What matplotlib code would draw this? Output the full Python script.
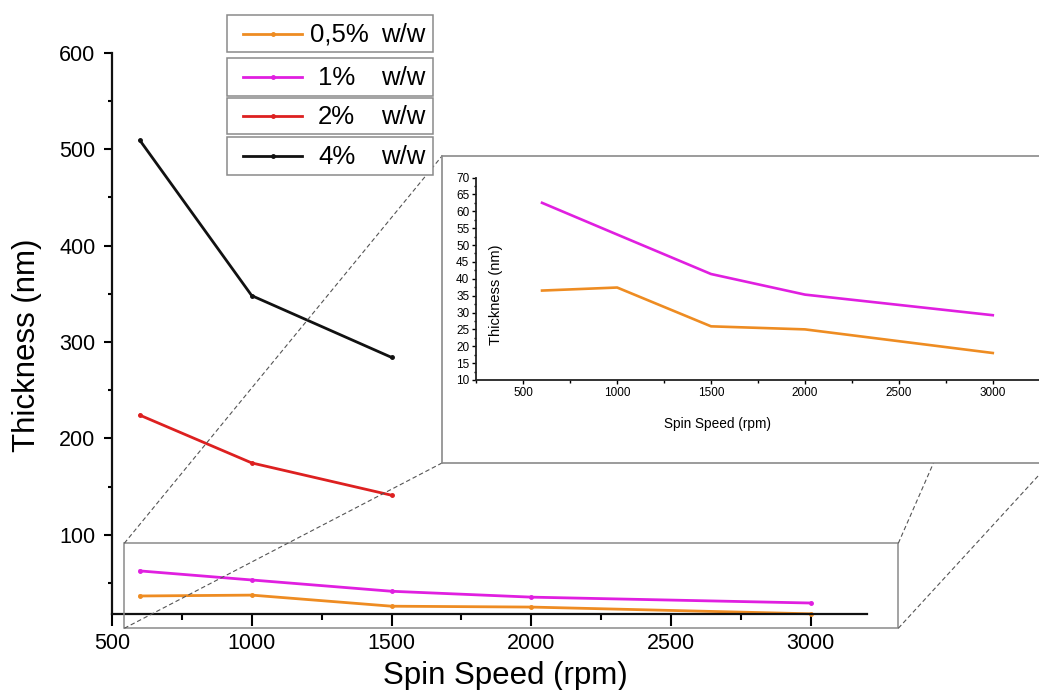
import matplotlib
matplotlib.use("Agg")
import matplotlib.pyplot as plt
from matplotlib.patches import Rectangle
from matplotlib.lines import Line2D
from matplotlib.ticker import MultipleLocator

plt.rcParams['font.family'] = ['Liberation Sans', 'DejaVu Sans']

# ---- data ----
speed_full = [600, 1000, 1500, 2000, 3000]
speed_short = [600, 1000, 1500]
thick_05 = [36.5, 37.4, 25.9, 25.0, 18.0]
thick_1 = [62.5, 53.1, 41.4, 35.3, 29.2]
thick_2 = [224, 174.5, 141]
thick_4 = [509, 348, 284]
legend_pct = ["0,5%", "1%", "2%", "4%"]
legend_unit = "w/w"
xlabel = "Spin Speed (rpm)"
ylabel = "Thickness (nm)"

colors = ['#EE8C22', '#E01FE0', '#DD2020', '#111111']

W, H = 1039, 690
fig = plt.figure(figsize=(W / 100, H / 100), dpi=100)


def fx(x):
    return x / W


def fy(y):
    return 1 - y / H


def box(l, t, r, b):
    return [fx(l), fy(b), (r - l) / W, (b - t) / H]


# ---- main axes ----
ax = fig.add_axes(box(112, 52.7, 866.7, 614.3))
ax.set_zorder(1)
series = [(speed_full, thick_05), (speed_full, thick_1),
          (speed_short, thick_2), (speed_short, thick_4)]
for (xs, ys), c in zip(series, colors):
    ax.plot(xs, ys, color=c, lw=2.0, marker='o', ms=2.5, clip_on=False)
ax.set_xlim(500, 3200)
ax.set_ylim(17.5, 600)
ax.xaxis.set_major_locator(MultipleLocator(500))
ax.xaxis.set_minor_locator(MultipleLocator(250))
ax.yaxis.set_major_locator(MultipleLocator(100))
ax.yaxis.set_minor_locator(MultipleLocator(50))
for s in ['top', 'right']:
    ax.spines[s].set_visible(False)
for s in ['left', 'bottom']:
    ax.spines[s].set_linewidth(1.6)
    ax.spines[s].set_color('#111111')
ax.tick_params(axis='x', which='major', length=8.4, width=1.5, labelsize=15.5, pad=5)
ax.tick_params(axis='x', which='minor', length=4.5, width=1.5)
ax.tick_params(axis='y', which='major', length=5.8, width=1.5, labelsize=15.5, pad=6)
ax.tick_params(axis='y', which='minor', length=3, width=1.5)

fig.text(fx(505), fy(676), xlabel, ha='center', va='center', fontsize=22.5)
fig.text(fx(27), fy(345), ylabel, ha='center', va='center', fontsize=22.5, rotation=90)

# ---- zoom rectangle and connector lines ----
gray = '#8a8a8a'
fig.add_artist(Rectangle((fx(124.3), fy(628.3)), (898.3 - 124.3) / W, (628.3 - 543.3) / H,
                         transform=fig.transFigure, fill=False, ec=gray, lw=1.1, zorder=2))
connectors = [((124.3, 543.3), (442, 156)), ((124.3, 628.3), (442, 463)),
              ((898.3, 543.3), (1068, 156)), ((898.3, 628.3), (1050, 463))]
for (x0, y0), (x1, y1) in connectors:
    fig.add_artist(Line2D([fx(x0), fx(x1)], [fy(y0), fy(y1)], transform=fig.transFigure,
                          color='#555555', lw=0.8, ls=(0, (4, 2.5)), zorder=2))

# ---- legend (separate boxes) ----
leg_boxes = [(15, 52), (58, 96), (98, 134), (137, 175)]
num_x = [310, 318, 318, 318]
for i, ((t, b), pct) in enumerate(zip(leg_boxes, legend_pct)):
    fig.add_artist(Rectangle((fx(227), fy(b)), (433 - 227) / W, (b - t) / H,
                             transform=fig.transFigure, fc='white', ec=gray, lw=1.1, zorder=3))
    yc = (t + b) / 2
    fig.add_artist(Line2D([fx(243), fx(302)], [fy(yc), fy(yc)], transform=fig.transFigure,
                          color=colors[i], lw=2.0, zorder=4))
    fig.add_artist(Line2D([fx(272.5)], [fy(yc)], transform=fig.transFigure, marker='o',
                          ms=2.5, color=colors[i], zorder=4))
    fig.text(fx(num_x[i]), fy(yc + 1), pct, ha='left', va='center', fontsize=18.5, zorder=4)
    fig.text(fx(381), fy(yc + 1), legend_unit, ha='left', va='center', fontsize=18.5, zorder=4)

# ---- inset ----
bg = fig.add_axes(box(442, 156, 1068, 463))
bg.set_zorder(5)
bg.set_xticks([])
bg.set_yticks([])
for s in bg.spines.values():
    s.set_color(gray)
    s.set_linewidth(1.2)

ins = fig.add_axes(box(476.3, 177.5, 1067.9, 380))
ins.set_zorder(6)
ins.patch.set_alpha(0)
ins.plot(speed_full, thick_05, color=colors[0], lw=1.9)
ins.plot(speed_full, thick_1, color=colors[1], lw=1.9)
ins.set_xlim(250, 3400)
ins.set_ylim(10, 70)
ins.xaxis.set_major_locator(MultipleLocator(500))
ins.xaxis.set_minor_locator(MultipleLocator(250))
ins.yaxis.set_major_locator(MultipleLocator(5))
ins.yaxis.set_minor_locator(MultipleLocator(2.5))
for s in ['top', 'right']:
    ins.spines[s].set_visible(False)
for s in ['left', 'bottom']:
    ins.spines[s].set_linewidth(1.3)
    ins.spines[s].set_color('#222222')
ins.tick_params(which='major', length=3, width=1, labelsize=8.5, pad=2)
ins.tick_params(which='minor', length=1.8, width=1)
fig.text(fx(496), fy(295), ylabel, ha='center', va='center', fontsize=10.5, rotation=90, zorder=7)
fig.text(fx(718), fy(424), xlabel, ha='center', va='center', fontsize=9.8, zorder=7)

fig.savefig('out.png', dpi=100)
